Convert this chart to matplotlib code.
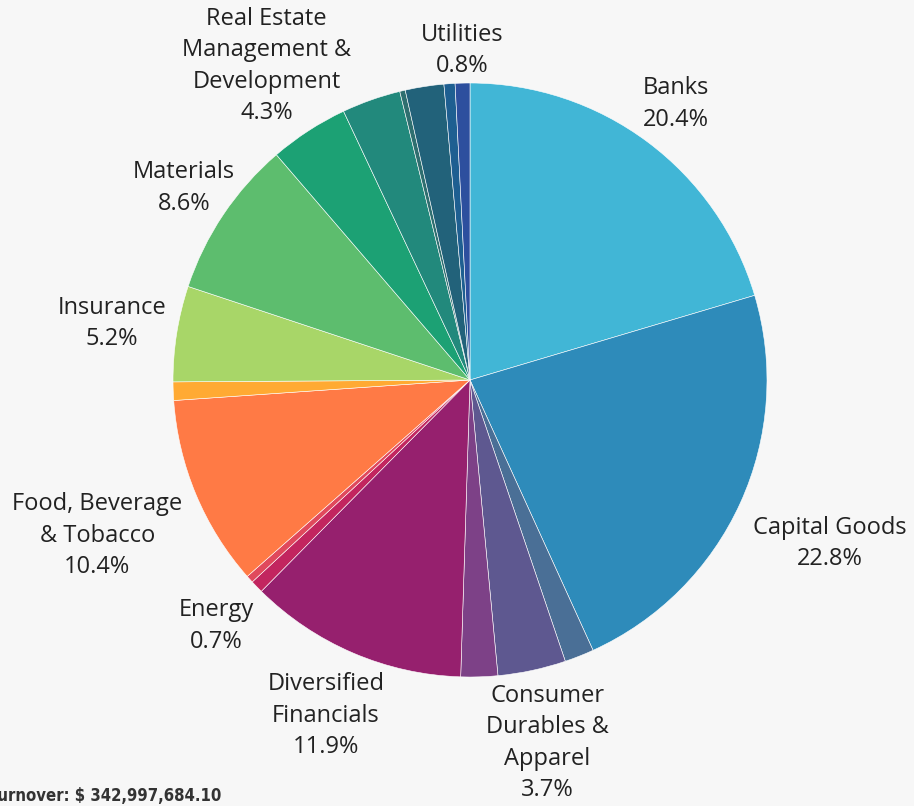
import matplotlib.pyplot as plt
import numpy as np

# sector shares (%) clockwise from 12 o'clock
sectors = ["Banks", "Capital Goods", "Commercial & Professional Services",
           "Consumer Durables & Apparel", "Consumer Services", "Diversified Financials",
           "Energy", "Food & Staples Retailing", "Food, Beverage & Tobacco",
           "Health Care Equipment & Services", "Insurance", "Materials",
           "Real Estate Management & Development", "Retailing", "Software & Services",
           "Telecommunication Services", "Transportation", "Utilities"]
shares = [20.4, 22.8, 1.6, 3.7, 2.0, 11.9, 0.7, 0.4, 10.4, 1.0, 5.2, 8.6, 4.3, 3.2, 0.3, 2.1, 0.6, 0.8]
colors = ["#41b6d6", "#2e8bba", "#4a6f96", "#5e5890", "#7d4187", "#96206e",
          "#c2255f", "#e0495c", "#ff7a45", "#ffaa33", "#a8d668", "#5dbd6e",
          "#1ca174", "#22897c", "#2f6f70", "#22627a", "#1e5f91", "#2d4f9e"]

# labels shown on the chart: text and radial distance (in pie radii)
shown = {
    "Banks": ("Banks", 1.16),
    "Capital Goods": ("Capital Goods", 1.33),
    "Consumer Durables & Apparel": ("Consumer\nDurables &\nApparel", 1.25),
    "Diversified Financials": ("Diversified\nFinancials", 1.23),
    "Energy": ("Energy", 1.19),
    "Food, Beverage & Tobacco": ("Food, Beverage\n& Tobacco", 1.36),
    "Insurance": ("Insurance", 1.22),
    "Materials": ("Materials", 1.16),
    "Real Estate Management & Development": ("Real Estate\nManagement &\nDevelopment", 1.26),
    "Utilities": ("Utilities", 1.11),
}
turnover = "Turnover: $ 342,997,684.10"

bg = "#f7f7f7"
fig = plt.figure(figsize=(9.14, 8.06), dpi=100, facecolor=bg)
W, H = 914, 806
cx, cy, R = 470, 380, 297
ax = fig.add_axes([(cx - R) / W, 1 - (cy + R) / H, 2 * R / W, 2 * R / H])
ax.set_facecolor(bg)

wedges, _ = ax.pie(shares, colors=colors, startangle=90, counterclock=False,
                   radius=1, wedgeprops=dict(edgecolor="#ffffff", linewidth=0.4))
ax.set_xlim(-1, 1)
ax.set_ylim(-1, 1)
ax.axis("off")

total = sum(shares)
cum = np.cumsum([0] + shares)
for i, name in enumerate(sectors):
    if name not in shown:
        continue
    txt, dist = shown[name]
    mid = (cum[i] + shares[i] / 2) / total * 2 * np.pi  # clockwise from top
    x = dist * np.sin(mid)
    y = dist * np.cos(mid)
    ax.text(x, y, f"{txt}\n{shares[i]:.1f}%", ha="center", va="center",
            fontsize=17, family="Open Sans", color="#222222",
            linespacing=1.42, clip_on=False)

fig.text(-11 / W, 1 - 796 / H, turnover, ha="left", va="center",
         fontsize=12, fontweight="bold", family="DejaVu Sans", stretch="condensed",
         color="#333333")

fig.savefig("out.png", dpi=100, facecolor=bg)
